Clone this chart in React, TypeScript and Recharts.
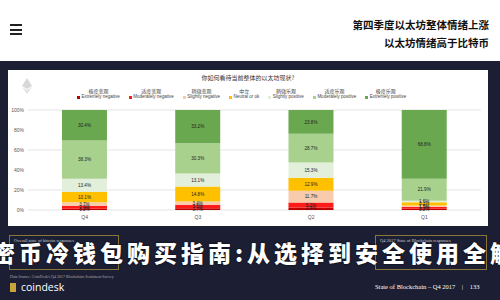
import { BarChart, Bar, XAxis, YAxis, CartesianGrid, LabelList } from "recharts";

const quarters = ["Q4", "Q3", "Q2", "Q1"];
const extremelyNegative = [1.2, 1.7, 2.4, 1.2];
const moderatelyNegative = [2.9, 3.5, 5.2, 1.9];
const slightlyNegative = [3.7, 3.4, 11.7, 1.5];
const neutral = [10.1, 14.8, 12.9, 3.1];
const slightlyPositive = [13.4, 13.1, 15.3, 1.6];
const moderatelyPositive = [38.3, 30.3, 28.7, 21.9];
const extremelyPositive = [30.4, 33.2, 23.8, 68.8];

const seriesKeys = ["en", "mn", "sn", "ne", "sp", "mp", "ep"];
const seriesEnglish = [
  "Extremely negative",
  "Moderately negative",
  "Slightly negative",
  "Neutral or ok",
  "Slightly positive",
  "Moderately positive",
  "Extremely positive",
];
const seriesChinese = ["极度悲观", "适度悲观", "稍微悲观", "中立", "稍微乐观", "适度乐观", "极度乐观"];
const seriesColors = ["#c00000", "#ff1a1a", "#f8cbad", "#ffc000", "#e2efda", "#a9d18e", "#6aa84f"];
const yTicks = [0, 20, 40, 60, 80, 100];

const seriesValues = [
  extremelyNegative,
  moderatelyNegative,
  slightlyNegative,
  neutral,
  slightlyPositive,
  moderatelyPositive,
  extremelyPositive,
];

const data = quarters.map((q, i) => {
  const row: any = { quarter: q };
  seriesKeys.forEach((k, s) => (row[k] = seriesValues[s][i]));
  return row;
});

const cjk = "'Noto Sans CJK SC', 'Noto Sans', sans-serif";

export default function App() {
  return (
    <div
      style={{
        position: "absolute",
        left: 0,
        top: 0,
        width: 500,
        height: 300,
        overflow: "hidden",
        background: "#ffffff",
        fontFamily: cjk,
      }}
    >
      {/* hamburger */}
      {[0, 1, 2].map((i) => (
        <div
          key={i}
          style={{ position: "absolute", left: 10, top: 24 + i * 4.5, width: 12, height: 2, background: "#222" }}
        />
      ))}
      <div
        style={{
          position: "absolute",
          right: 11,
          top: 16,
          textAlign: "right",
          fontSize: 10.5,
          fontWeight: 700,
          lineHeight: "18px",
          color: "#111",
        }}
      >
        <div>第四季度以太坊整体情绪上涨</div>
        <div>以太坊情绪高于比特币</div>
      </div>

      {/* dark slide */}
      <div style={{ position: "absolute", left: 0, top: 61, width: 500, height: 239, background: "#1c1e33" }} />

      {/* chart panel */}
      <div style={{ position: "absolute", left: 8, top: 70, width: 480, height: 156, background: "#fff" }}>
        <svg style={{ position: "absolute", left: 14, top: 8 }} width="10" height="16">
          <polygon points="5,0 10,8 5,11 0,8" fill="#d8d8d8" />
          <polygon points="5,12 10,9 5,16 0,9" fill="#e2e2e2" />
        </svg>
        <div
          style={{ position: "absolute", left: 0, width: 480, top: 3, textAlign: "center", fontSize: 6, color: "#333" }}
        >
          你如何看待当前整体的以太坊现状?
        </div>
        <div
          style={{
            position: "absolute",
            left: 69,
            top: 18,
            display: "flex",
            gap: 9,
            fontSize: 4.5,
            color: "#444",
            lineHeight: "6px",
          }}
        >
          {seriesEnglish.map((name, i) => (
            <div key={name} style={{ display: "flex", flexDirection: "column", alignItems: "center" }}>
              <div style={{ fontSize: 5 }}>{seriesChinese[i]}</div>
              <div style={{ display: "flex", alignItems: "center", gap: 1.5, fontFamily: "'Liberation Sans', sans-serif" }}>
                <span style={{ width: 3, height: 3, background: seriesColors[i], display: "inline-block" }} />
                <span>{name}</span>
              </div>
            </div>
          ))}
        </div>
        <BarChart
          width={480}
          height={156}
          data={data}
          margin={{ top: 40, right: 7, bottom: 4, left: 0 }}
          barCategoryGap="30%"
        >
          <CartesianGrid vertical={false} stroke="#d9d9d9" strokeWidth={0.7} />
          <XAxis
            dataKey="quarter"
            height={12}
            axisLine={false}
            tickLine={false}
            tickSize={0}
            tickMargin={5}
            tick={{ fontSize: 5, fill: "#555", fontFamily: "Liberation Sans" }}
          />
          <YAxis
            width={20}
            domain={[0, 100]}
            ticks={yTicks}
            tickFormatter={(v: number) => `${v}%`}
            axisLine={false}
            tickLine={false}
            tickSize={0}
            tickMargin={4}
            tick={{ fontSize: 5, fill: "#555", fontFamily: "Liberation Sans" }}
          />
          {seriesKeys.map((k, i) => (
            <Bar key={k} dataKey={k} stackId="a" fill={seriesColors[i]} isAnimationActive={false}>
              <LabelList
                dataKey={k}
                position="center"
                formatter={(v: any) => `${Number(v).toFixed(1)}%`}
                style={{ fontSize: 4.6, fill: "#222", fontFamily: "Liberation Sans" }}
              />
            </Bar>
          ))}
        </BarChart>
      </div>

      {/* boxes below the chart */}
      <div
        style={{
          position: "absolute",
          left: 9,
          top: 235,
          width: 110,
          height: 35,
          border: "1px solid #8a7636",
          color: "#cfcfcf",
          fontFamily: "'Liberation Serif', serif",
          fontSize: 4.5,
          padding: "2px 4px",
          boxSizing: "border-box",
        }}
      >
        Overall state of bitcoin responses
      </div>
      <div
        style={{
          position: "absolute",
          left: 375,
          top: 235,
          width: 112,
          height: 35,
          border: "1px solid #8a7636",
          color: "#cfcfcf",
          fontFamily: "'Liberation Serif', serif",
          fontSize: 4.5,
          padding: "2px 4px",
          boxSizing: "border-box",
        }}
      >
        Q4 2017 State of Blockchain responses
      </div>

      {/* overlay headline */}
      <div
        style={{
          position: "absolute",
          left: -8,
          top: 239,
          whiteSpace: "nowrap",
          fontSize: 23,
          fontWeight: 900,
          letterSpacing: 4,
          color: "#ffffff",
          lineHeight: "26px",
          textShadow: "0 0 2px #000",
        }}
      >
        密币冷钱包购买指南:从选择到安全使用全解
      </div>

      {/* footer */}
      <div
        style={{
          position: "absolute",
          left: 10,
          top: 274,
          fontSize: 4,
          color: "#aaa",
          fontFamily: "'Liberation Serif', serif",
        }}
      >
        Data Source: CoinDesk's Q4 2017 Blockchain Sentiment Survey
      </div>
      <div style={{ position: "absolute", left: 10, top: 283, width: 6, height: 9, background: "#c9a43a" }} />
      <div
        style={{
          position: "absolute",
          left: 21,
          top: 280,
          fontSize: 10.5,
          color: "#fff",
          fontFamily: "'Open Sans', sans-serif",
        }}
      >
        coindesk
      </div>
      <div
        style={{
          position: "absolute",
          left: 375,
          top: 283,
          fontSize: 6.5,
          color: "#fff",
          fontFamily: "'Liberation Serif', serif",
          whiteSpace: "pre",
        }}
      >
        {"State of Blockchain – Q4 2017    |    133"}
      </div>
    </div>
  );
}
